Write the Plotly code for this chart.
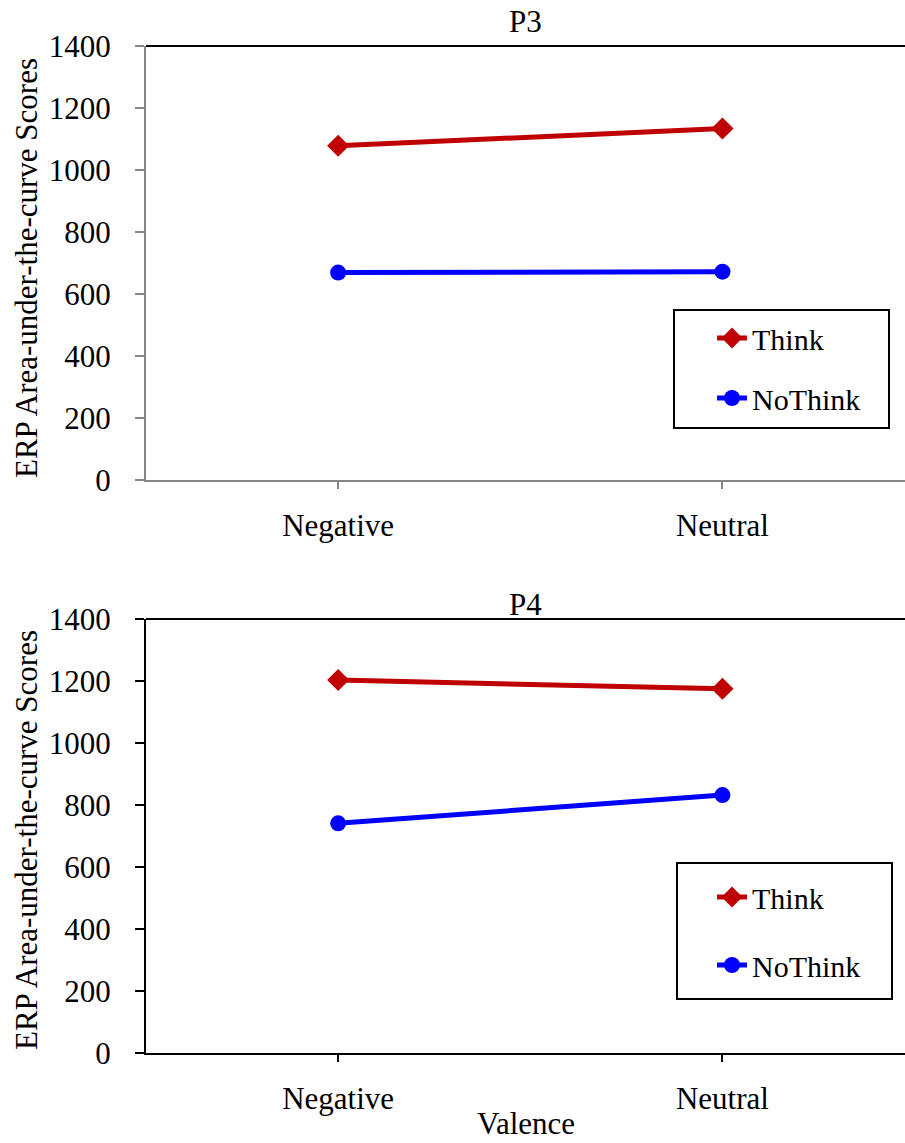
import plotly.graph_objects as go

categories = ["Negative", "Neutral"]
cat_pos = [0, 1]
p3_think = [1078, 1134]
p3_nothink = [669, 672]
p4_think = [1203, 1175]
p4_nothink = [741, 832]
y_ticks = [0, 200, 400, 600, 800, 1000, 1200, 1400]

W, H = 905, 1143
FONT = "'Liberation Serif', 'Times New Roman', serif"
RED = "#C00000"
BLUE = "#0000FF"

def py(px):
    return 1 - px / H

fig = go.Figure()

def add_pair(think, nothink, xa, ya, legend):
    fig.add_trace(go.Scatter(
        x=cat_pos, y=think, name="Think", mode="lines+markers",
        line=dict(color=RED, width=5),
        marker=dict(symbol="diamond", size=17, color=RED),
        xaxis=xa, yaxis=ya, legend=legend, legendgroup=legend + "a"))
    fig.add_trace(go.Scatter(
        x=cat_pos, y=nothink, name="NoThink", mode="lines+markers",
        line=dict(color=BLUE, width=5),
        marker=dict(symbol="circle", size=16, color=BLUE),
        xaxis=xa, yaxis=ya, legend=legend, legendgroup=legend + "b"))

add_pair(p3_think, p3_nothink, "x", "y", "legend")
add_pair(p4_think, p4_nothink, "x2", "y2", "legend2")

xdom = [146 / W, 1.0]
top_dom = [py(480), py(46)]
bot_dom = [py(1053), py(619)]

def xaxis_cfg(color, anchor):
    return dict(domain=xdom, range=[-0.5, 1.475], tickvals=cat_pos, ticktext=categories,
                showline=True, linecolor=color, linewidth=2, ticks="outside",
                ticklen=7, tickwidth=1.5, tickcolor=color, showgrid=False, zeroline=False,
                tickfont=dict(family=FONT, size=31, color="black"),
                ticklabelstandoff=10, anchor=anchor, fixedrange=True, automargin=False)

def yaxis_cfg(color, dom, anchor):
    return dict(domain=dom, range=[0, 1400], tickvals=y_ticks,
                showline=True, linecolor=color, linewidth=2, ticks="outside",
                ticklen=9, tickwidth=1.5, tickcolor=color, showgrid=False, zeroline=False,
                tickfont=dict(family=FONT, size=31, color="black"),
                ticklabelstandoff=18, anchor=anchor, fixedrange=True, automargin=False)

GRAY = "#868686"
fig.update_layout(
    width=W, height=H, autosize=False,
    margin=dict(l=0, r=0, t=0, b=0, pad=0, autoexpand=False),
    paper_bgcolor="white", plot_bgcolor="white",
    font=dict(family=FONT, size=31, color="black"),
    xaxis=xaxis_cfg(GRAY, "y"),
    yaxis=yaxis_cfg(GRAY, top_dom, "x"),
    xaxis2=xaxis_cfg("black", "y2"),
    yaxis2=yaxis_cfg("black", bot_dom, "x2"),
    legend=dict(x=712 / W, y=py(312), xanchor="left", yanchor="top",
                bgcolor="rgba(0,0,0,0)", borderwidth=0,
                font=dict(family=FONT, size=30, color="black"),
                traceorder="grouped", tracegroupgap=18, itemwidth=30),
    legend2=dict(x=712 / W, y=py(871), xanchor="left", yanchor="top",
                 bgcolor="rgba(0,0,0,0)", borderwidth=0,
                 font=dict(family=FONT, size=30, color="black"),
                 traceorder="grouped", tracegroupgap=26, itemwidth=30),
    showlegend=True,
)

shapes = [
    dict(type="line", xref="x domain", yref="y domain", x0=0, x1=1, y0=1, y1=1,
         line=dict(color="black", width=2)),
    dict(type="line", xref="x2 domain", yref="y2 domain", x0=0, x1=1, y0=1, y1=1,
         line=dict(color="black", width=2)),
    dict(type="rect", xref="paper", yref="paper", x0=674 / W, x1=889 / W,
         y0=py(428), y1=py(310), line=dict(color="black", width=2), fillcolor="white",
         layer="below"),
    dict(type="rect", xref="paper", yref="paper", x0=677 / W, x1=892 / W,
         y0=py(999), y1=py(863), line=dict(color="black", width=2), fillcolor="white",
         layer="below"),
]
fig.update_layout(shapes=shapes)

xc = (xdom[0] + xdom[1]) / 2
ann = [
    dict(text="P3", x=xc, y=py(22), xref="paper", yref="paper", showarrow=False,
         xanchor="center", yanchor="middle", font=dict(family=FONT, size=31)),
    dict(text="P4", x=xc, y=py(604), xref="paper", yref="paper", showarrow=False,
         xanchor="center", yanchor="middle", font=dict(family=FONT, size=31)),
    dict(text="Valence", x=xc, y=py(1123), xref="paper", yref="paper", showarrow=False,
         xanchor="center", yanchor="middle", font=dict(family=FONT, size=31)),
    dict(text="ERP Area-under-the-curve Scores", x=26 / W, y=py(268), xref="paper",
         yref="paper", showarrow=False, textangle=-90, xanchor="center",
         yanchor="middle", font=dict(family=FONT, size=31)),
    dict(text="ERP Area-under-the-curve Scores", x=26 / W, y=py(840), xref="paper",
         yref="paper", showarrow=False, textangle=-90, xanchor="center",
         yanchor="middle", font=dict(family=FONT, size=31)),
]
fig.update_layout(annotations=ann)

fig.write_html("out.html")
